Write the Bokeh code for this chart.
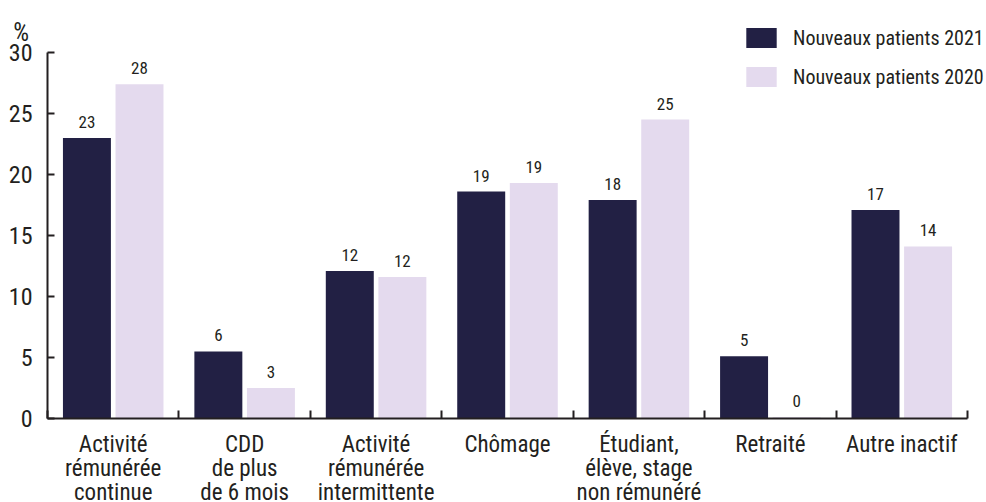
from bokeh.plotting import figure
from bokeh.models import (Range1d, FixedTicker, ColumnDataSource, LabelSet,
                          Legend, LegendItem)
from bokeh.core.properties import value
from bokeh.embed import file_html
from bokeh.resources import INLINE

# ---- data ----
categories = ["Activité\nrémunérée\ncontinue", "CDD\nde plus\nde 6 mois",
              "Activité\nrémunérée\nintermittente", "Chômage",
              "Étudiant,\nélève, stage\nnon rémunéré", "Retraité", "Autre inactif"]
values_2021 = [23.0, 5.5, 12.1, 18.6, 17.9, 5.1, 17.1]
values_2020 = [27.4, 2.5, 11.6, 19.3, 24.5, 0.1, 14.1]
labels_2021 = ["23", "6", "12", "19", "18", "5", "17"]
labels_2020 = ["28", "3", "12", "19", "25", "0", "14"]
series_names = ["Nouveaux patients 2021", "Nouveaux patients 2020"]
y_ticks = [0, 5, 10, 15, 20, 25, 30]
y_unit = "%"

# ---- style ----
FONT = "Roboto Condensed, Noto Sans Condensed, DejaVu Sans Condensed, sans-serif"
DARK = "#222044"
LIGHT = "#e4daee"
TEXT = "#231f20"

n = len(categories)
xc = [i + 0.5 for i in range(n)]
x21 = [x - 0.2 for x in xc]
x20 = [x + 0.2 for x in xc]

W, H = 986, 502
axis_x_px, axis_y_px = 47, 418          # where the axes cross on the canvas
px_x = 920 / n                           # pixels per category
px_y = 366 / 30                          # pixels per percent
cat_gap_px = 12                          # gap between x axis and category labels

src = ColumnDataSource(dict(xc=xc, x21=x21, x20=x20, v21=values_2021, v20=values_2020,
                            l21=labels_2021, l20=labels_2020, cat=categories,
                            cat_y=[-cat_gap_px / px_y] * n))

p = figure(width=W, height=H, output_backend="svg", toolbar_location=None,
           x_range=Range1d(-axis_x_px / px_x, (W - axis_x_px) / px_x),
           y_range=Range1d(-(H - axis_y_px) / px_y, axis_y_px / px_y),
           min_border=0)
p.outline_line_color = None
p.grid.visible = False
p.background_fill_color = "white"
p.border_fill_color = "white"

r1 = p.vbar(x="x21", top="v21", width=0.365, source=src, fill_color=DARK, line_color=None)
r2 = p.vbar(x="x20", top="v20", width=0.365, source=src, fill_color=LIGHT, line_color=None)

# y axis
ya = p.yaxis[0]
ya.fixed_location = 0
ya.ticker = FixedTicker(ticks=y_ticks)
ya.bounds = (0, 30)
ya.axis_line_color = TEXT
ya.axis_line_width = 2
ya.major_tick_line_color = TEXT
ya.major_tick_line_width = 2
ya.major_tick_in = 7
ya.major_tick_out = 0
ya.minor_tick_line_color = None
ya.major_label_standoff = 15
ya.major_label_text_font = FONT
ya.major_label_text_font_size = "24px"
ya.major_label_text_color = TEXT

# x axis (line + category separators; names drawn below as multi-line text)
xa = p.xaxis[0]
xa.fixed_location = 0
xa.ticker = FixedTicker(ticks=[], minor_ticks=list(range(n + 1)))
xa.bounds = (0, n)
xa.axis_line_color = TEXT
xa.axis_line_width = 2
xa.major_tick_line_color = None
xa.minor_tick_line_color = TEXT
xa.minor_tick_line_width = 2
xa.minor_tick_in = 8
xa.minor_tick_out = 0

p.text(x="xc", y="cat_y", text="cat", source=src, text_align="center",
       text_baseline="top", text_line_height=0.9, text_font=value(FONT),
       text_font_size="23px", text_color=TEXT)

# value labels
for xs, ys, ts in (("x21", "v21", "l21"), ("x20", "v20", "l20")):
    p.add_layout(LabelSet(x=xs, y=ys, text=ts, source=src, y_offset=10,
                          text_align="center", text_baseline="alphabetic",
                          text_font=value(FONT), text_font_size="17px",
                          text_color=TEXT))

# unit label
p.text(x=[-0.2], y=[31.6], text=[y_unit], text_align="center",
       text_baseline="alphabetic", text_font=value(FONT), text_font_size="25px",
       text_color=TEXT)

legend = Legend(items=[LegendItem(label=series_names[0], renderers=[r1]),
                       LegendItem(label=series_names[1], renderers=[r2])],
                location=(742, 413), orientation="vertical", glyph_width=38,
                glyph_height=25, spacing=14, padding=0, margin=0, label_standoff=13,
                border_line_color=None, background_fill_alpha=0,
                label_text_font=FONT, label_text_font_size="20px",
                label_text_color=TEXT)
p.add_layout(legend)

open("out.html", "w").write(file_html(p, INLINE))
